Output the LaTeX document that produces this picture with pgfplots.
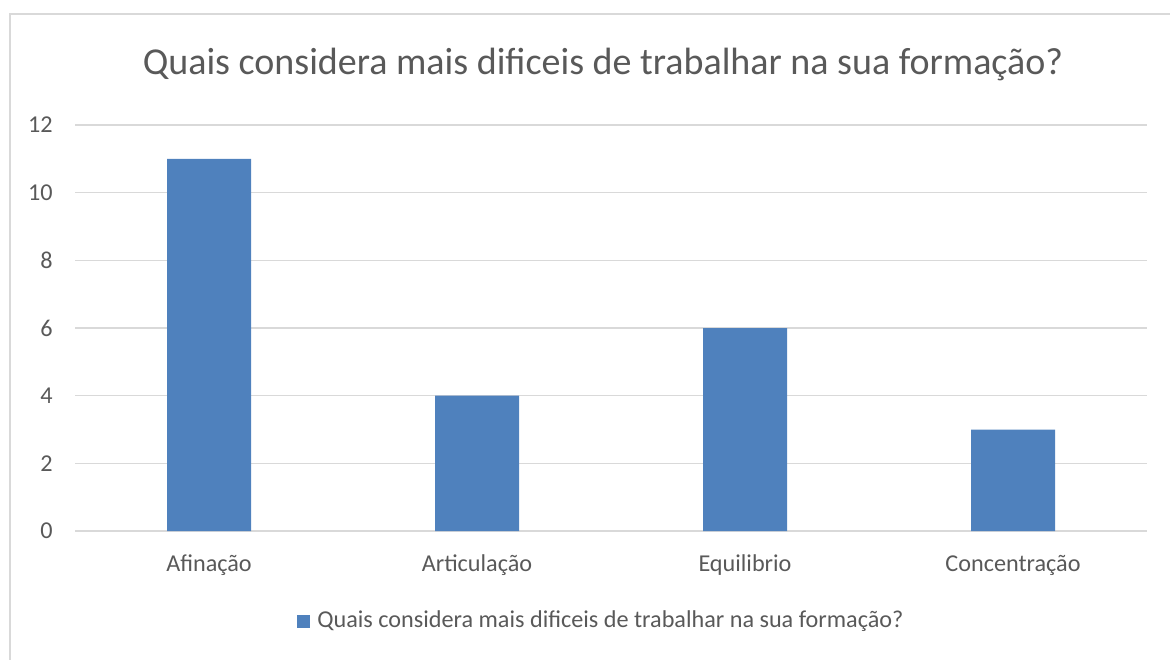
\documentclass[border=0pt]{standalone}
\usepackage{pgfplots}
\pgfplotsset{compat=1.18}
\usepackage{fontspec}
\setmainfont{Carlito}
\definecolor{barblue}{RGB}{79,129,189}
\definecolor{txt}{RGB}{89,89,89}
\definecolor{gridc}{RGB}{217,217,217}
\begin{document}
\begin{tikzpicture}[x=0.5pt,y=0.5pt]
\useasboundingbox (0,0) rectangle (1170,659);
\begin{scope}
\clip (0,0) rectangle (1170,659);
\draw[gridc, line width=1pt] (10,-20) rectangle (1190,645);
\end{scope}
\node[anchor=base, text=txt, font=\fontsize{19}{23}\selectfont] at (603,584) {Quais considera mais dificeis de trabalhar na sua formação?};
\begin{axis}[
  at={(37.5pt,64pt)}, anchor=south west,
  scale only axis, width=536pt, height=203pt,
  xmin=-0.5, xmax=3.5, ymin=0, ymax=12,
  xtick={0,1,2,3},
  xticklabels={Afinação, Articulação, Equilibrio, Concentração},
  ytick={0,2,...,12},
  ymajorgrids, grid style={gridc, line width=0.8pt},
  axis x line=bottom, axis y line=left,
  x axis line style={gridc, line width=0.8pt, -},
  y axis line style={draw=none},
  major tick length=0pt,
  tick label style={text=txt, font=\fontsize{12.1}{14}\selectfont},
  yticklabel style={/pgf/number format/assume math mode=true, xshift=-7.6pt},
  xticklabel style={anchor=base, yshift=-20pt},
  ybar, bar width=42pt,
  legend style={at={(0.492,-0.2217)}, anchor=center, draw=none, fill=none,
    font=\fontsize{12.1}{14}\selectfont, text=txt, legend columns=-1,
    /tikz/every even column/.append style={column sep=0pt}},
  legend image code/.code={\fill[barblue] (0pt,-3.25pt) rectangle (6.5pt,3.25pt);},
]
\addplot[fill=barblue, draw=none] coordinates {(0,11) (1,4) (2,6) (3,3)};
\addlegendentry{\hspace{1.5pt}Quais considera mais dificeis de trabalhar na sua formação?}
\end{axis}
\end{tikzpicture}
\end{document}
